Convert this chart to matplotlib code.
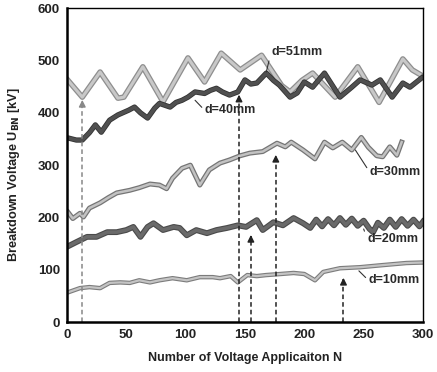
import matplotlib.pyplot as plt
import matplotlib.patheffects as pe

plt.rcParams['font.family'] = ['Liberation Sans', 'DejaVu Sans']

# values (turning points of each curve)
d51_n = [1, 13, 28, 43, 48, 64, 81, 102, 116, 130, 146, 164, 181, 188, 198, 207, 226, 245, 263, 283, 291, 300]
d51_v = [462, 430, 478, 428, 430, 488, 421, 505, 459, 514, 482, 510, 452, 440, 462, 476, 430, 488, 420, 503, 482, 470]

d40_n = [1, 8, 13, 19, 24, 29, 36, 43, 52, 57, 62, 68, 74, 78, 87, 92, 97, 102, 108, 116, 121, 126,
         131, 137, 144, 150, 155, 160, 168, 174, 179, 188, 194, 200, 207, 217, 230, 240, 247, 257, 264,
         274, 283, 289, 299]
d40_v = [352, 348, 348, 362, 377, 363, 386, 396, 405, 411, 400, 390, 409, 418, 411, 420, 424, 430, 440, 437, 443, 447,
         440, 434, 440, 463, 455, 457, 476, 462, 453, 430, 438, 459, 449, 476, 430, 449, 463, 453, 463,
         430, 457, 449, 467]

d30_n = [1, 5, 11, 14, 19, 28, 35, 42, 53, 61, 70, 78, 84, 89, 97, 104, 112, 120, 129, 137, 146, 154,
         165, 177, 184, 189, 199, 209, 217, 224, 232, 240, 248, 254, 261, 266, 272, 278, 282]
d30_v = [210, 198, 208, 201, 218, 228, 238, 247, 252, 257, 264, 262, 255, 275, 294, 300, 262, 291, 304, 310, 318, 323,
         326, 342, 335, 344, 329, 312, 344, 333, 344, 329, 353, 334, 318, 316, 335, 319, 344]

d20_n = [1, 8, 17, 25, 34, 42, 50, 56, 62, 68, 73, 81, 90, 95, 101, 109, 118, 126, 135, 144, 151, 160,
         165, 174, 182, 191, 199, 205, 210, 215, 220, 225, 230, 235, 240, 245, 250, 255, 258, 262, 267,
         272, 277, 282, 287, 292, 297, 300]
d20_v = [145, 153, 163, 163, 172, 172, 176, 182, 163, 182, 189, 176, 182, 180, 166, 176, 170, 176, 180, 185, 182, 195,
         176, 191, 185, 199, 189, 180, 196, 183, 197, 185, 199, 186, 198, 184, 194, 178, 172, 190, 180,
         196, 182, 197, 184, 196, 183, 192]

d10_n = [1, 11, 19, 28, 36, 45, 53, 61, 70, 78, 89, 101, 112, 123, 129, 138, 144, 152, 160, 168, 180,
         191, 200, 209, 216, 230, 247, 266, 286, 300]
d10_v = [57, 65, 67, 65, 75, 76, 75, 80, 76, 80, 84, 80, 86, 86, 84, 88, 76, 90, 88, 90, 92,
         94, 92, 80, 96, 103, 105, 109, 113, 114]

# dashed arrows: shot number and voltage at the tip
arrow_n = [13, 145, 155, 176, 233]
arrow_v = [430, 440, 172, 325, 90]

fig = plt.figure(figsize=(4.37, 3.72), dpi=100)
ax = fig.add_axes([0.153, 0.134, 0.815, 0.844])

def curve(n, v, inner, outer, lw_in, lw_out):
    ax.plot(n, v, color=inner, lw=lw_in, solid_joinstyle='round',
            path_effects=[pe.withStroke(linewidth=lw_out, foreground=outer)])

curve(d10_n, d10_v, '#c4c4c4', '#7c7c7c', 1.6, 3.2)
curve(d20_n, d20_v, '#6a6a6a', '#4a4a4a', 2.6, 4.2)
curve(d30_n, d30_v, '#c2c2c2', '#757575', 1.8, 3.6)
curve(d51_n, d51_v, '#c8c8c8', '#8e8e8e', 2.2, 4.0)
curve(d40_n, d40_v, '#505050', '#333333', 2.6, 3.8)

for i, (n, v) in enumerate(zip(arrow_n, arrow_v)):
    c = '#888888' if i == 0 else '#222222'
    ax.plot([n, n], [0, v - 8], ls=(0, (3, 2)), color=c, lw=1.1)
    ax.annotate('', xy=(n, v), xytext=(n, v - 20),
                arrowprops=dict(arrowstyle='-|>', color=c, lw=1.0, mutation_scale=10))

labels = [('d=51mm', 172, 516, 168, 478), ('d=40mm', 116, 405, 108, 424),
          ('d=30mm', 255, 287, 243, 329), ('d=20mm', 253, 159, 250, 178),
          ('d=10mm', 254, 80, 246, 98)]
for txt, tx, ty, px, py in labels:
    ax.annotate(txt, xy=(px, py), xytext=(tx, ty), fontsize=9, fontweight='bold',
                color='#2a2a2a', ha='left', va='center',
                arrowprops=dict(arrowstyle='-', color='#333333', lw=0.8,
                                shrinkA=0, shrinkB=0, relpos=(0, 0.5)))

ax.set_xlim(0, 300)
ax.set_ylim(0, 600)
ax.set_xticks(range(0, 301, 50))
ax.set_yticks(range(0, 601, 100))
ax.tick_params(length=0, labelsize=9.5, pad=5)
for lab in ax.get_xticklabels() + ax.get_yticklabels():
    lab.set_fontweight('bold')
    lab.set_color('#222222')
for s in ['left', 'bottom']:
    ax.spines[s].set_linewidth(1.8)
for s in ['top', 'right']:
    ax.spines[s].set_linewidth(1.0)

ax.set_xlabel('Number of Voltage Applicaiton N', fontsize=9, fontweight='bold',
              color='#222222', labelpad=8)
ax.set_ylabel(r'Breakdown Voltage U$_{\mathbf{BN}}$ [kV]', fontsize=9.2, fontweight='bold',
              color='#222222', labelpad=6)
ax.yaxis.set_label_coords(-0.125, 0.47)

fig.savefig('out.png', dpi=100)
